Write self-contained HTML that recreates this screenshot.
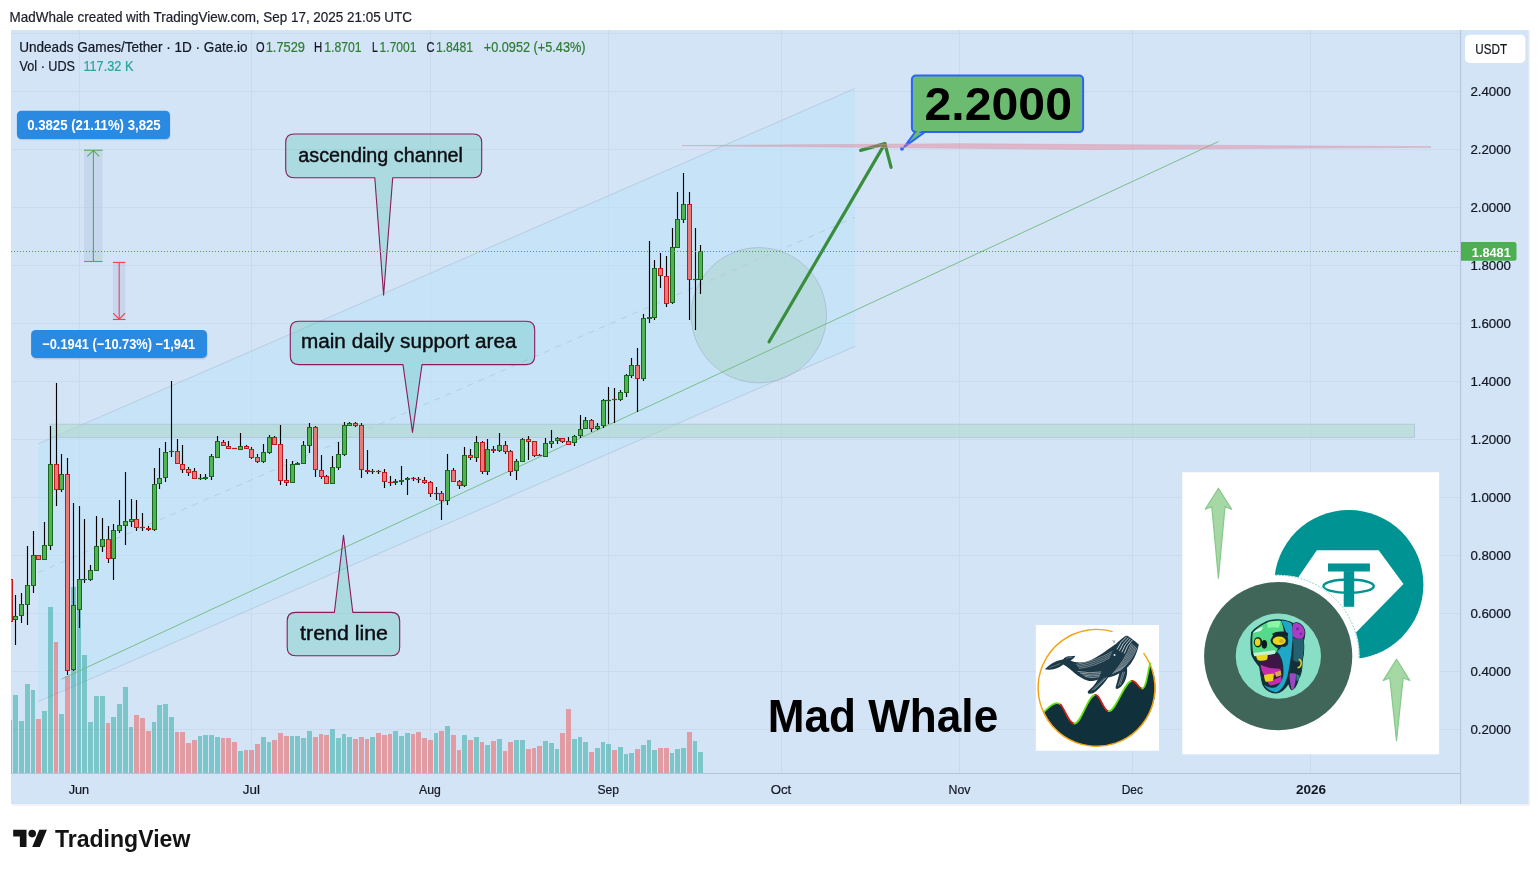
<!DOCTYPE html>
<html lang="en"><head><meta charset="utf-8"><title>UDS/USDT chart - MadWhale</title>
<style>html,body{margin:0;padding:0;background:#fff}body{width:1540px;height:873px;overflow:hidden;position:relative}svg{position:absolute;left:0;top:0;display:block}text{font-family:"Liberation Sans", "DejaVu Sans", sans-serif}</style>
</head><body>
<svg width="1540" height="873" viewBox="0 0 1540 873">
<rect x="12" y="31" width="1518.0" height="774.8" fill="#f1f1f0"/>
<rect x="11" y="30" width="1517.5" height="774" fill="#d3e4f7"/>
<defs><clipPath id="pane"><rect x="11" y="30" width="1449.5" height="743.5"/></clipPath></defs>
<g stroke="#c3d1e4" stroke-width="0.9" opacity="0.58">
<line x1="11" y1="33.5" x2="1460" y2="33.5"/>
<line x1="11" y1="91.5" x2="1460" y2="91.5"/>
<line x1="11" y1="149.5" x2="1460" y2="149.5"/>
<line x1="11" y1="207.5" x2="1460" y2="207.5"/>
<line x1="11" y1="265.5" x2="1460" y2="265.5"/>
<line x1="11" y1="323.5" x2="1460" y2="323.5"/>
<line x1="11" y1="381.5" x2="1460" y2="381.5"/>
<line x1="11" y1="439.5" x2="1460" y2="439.5"/>
<line x1="11" y1="497.5" x2="1460" y2="497.5"/>
<line x1="11" y1="555.5" x2="1460" y2="555.5"/>
<line x1="11" y1="613.5" x2="1460" y2="613.5"/>
<line x1="11" y1="671.5" x2="1460" y2="671.5"/>
<line x1="11" y1="729.5" x2="1460" y2="729.5"/>
<line x1="79.5" y1="30" x2="79.5" y2="773"/>
<line x1="251.5" y1="30" x2="251.5" y2="773"/>
<line x1="430.5" y1="30" x2="430.5" y2="773"/>
<line x1="608.5" y1="30" x2="608.5" y2="773"/>
<line x1="781.5" y1="30" x2="781.5" y2="773"/>
<line x1="959.5" y1="30" x2="959.5" y2="773"/>
<line x1="1132.5" y1="30" x2="1132.5" y2="773"/>
<line x1="1310.5" y1="30" x2="1310.5" y2="773"/>
</g>
<g clip-path="url(#pane)">
<polygon points="38.2,443.8 855,88.5 855,346.4 38.2,701.7" fill="#b9e2f8" fill-opacity="0.45"/>
<g stroke="#9fb0c4" stroke-width="1" opacity="0.45">
<line x1="38.2" y1="443.8" x2="855" y2="88.5"/>
<line x1="38.2" y1="701.7" x2="855" y2="346.4"/>
<line x1="38.2" y1="572.6" x2="855" y2="217.3" stroke-dasharray="6 6"/>
</g>
<rect x="50" y="424.2" width="1364.5" height="13.2" fill="#abd7c6" fill-opacity="0.5" stroke="#a8b8d6" stroke-opacity="0.7" stroke-width="0.8"/>
<circle cx="758.8" cy="315.2" r="67.6" fill="#a9d4c5" fill-opacity="0.5" stroke="#aab4cc" stroke-opacity="0.7" stroke-width="1"/>
<g>
<rect x="8" y="720" width="4" height="53" fill="#ef5350" fill-opacity="0.5"/>
<rect x="13" y="695" width="5" height="78" fill="#26a69a" fill-opacity="0.5"/>
<rect x="19" y="721" width="5" height="52" fill="#26a69a" fill-opacity="0.5"/>
<rect x="25" y="684" width="5" height="89" fill="#26a69a" fill-opacity="0.5"/>
<rect x="31" y="690" width="4" height="83" fill="#26a69a" fill-opacity="0.5"/>
<rect x="36" y="719" width="5" height="54" fill="#ef5350" fill-opacity="0.5"/>
<rect x="42" y="711" width="5" height="62" fill="#26a69a" fill-opacity="0.5"/>
<rect x="48" y="607" width="5" height="166" fill="#26a69a" fill-opacity="0.5"/>
<rect x="54" y="642" width="4" height="131" fill="#ef5350" fill-opacity="0.5"/>
<rect x="59" y="714" width="5" height="59" fill="#26a69a" fill-opacity="0.5"/>
<rect x="65" y="676" width="5" height="97" fill="#ef5350" fill-opacity="0.5"/>
<rect x="71" y="587" width="5" height="186" fill="#26a69a" fill-opacity="0.5"/>
<rect x="77" y="600" width="4" height="173" fill="#26a69a" fill-opacity="0.5"/>
<rect x="82" y="655" width="5" height="118" fill="#26a69a" fill-opacity="0.5"/>
<rect x="88" y="722" width="5" height="51" fill="#26a69a" fill-opacity="0.5"/>
<rect x="94" y="696" width="5" height="77" fill="#26a69a" fill-opacity="0.5"/>
<rect x="100" y="696" width="5" height="77" fill="#26a69a" fill-opacity="0.5"/>
<rect x="106" y="723" width="4" height="50" fill="#ef5350" fill-opacity="0.5"/>
<rect x="111" y="717" width="5" height="56" fill="#26a69a" fill-opacity="0.5"/>
<rect x="117" y="704" width="5" height="69" fill="#26a69a" fill-opacity="0.5"/>
<rect x="123" y="687" width="5" height="86" fill="#26a69a" fill-opacity="0.5"/>
<rect x="129" y="727" width="4" height="46" fill="#26a69a" fill-opacity="0.5"/>
<rect x="134" y="715" width="5" height="58" fill="#ef5350" fill-opacity="0.5"/>
<rect x="140" y="718" width="5" height="55" fill="#ef5350" fill-opacity="0.5"/>
<rect x="146" y="731" width="5" height="42" fill="#ef5350" fill-opacity="0.5"/>
<rect x="152" y="722" width="4" height="51" fill="#26a69a" fill-opacity="0.5"/>
<rect x="157" y="705" width="5" height="68" fill="#26a69a" fill-opacity="0.5"/>
<rect x="163" y="704" width="5" height="69" fill="#26a69a" fill-opacity="0.5"/>
<rect x="169" y="717" width="5" height="56" fill="#26a69a" fill-opacity="0.5"/>
<rect x="175" y="732" width="4" height="41" fill="#ef5350" fill-opacity="0.5"/>
<rect x="180" y="732" width="5" height="41" fill="#ef5350" fill-opacity="0.5"/>
<rect x="186" y="743" width="5" height="30" fill="#ef5350" fill-opacity="0.5"/>
<rect x="192" y="740" width="5" height="33" fill="#ef5350" fill-opacity="0.5"/>
<rect x="198" y="736" width="4" height="37" fill="#26a69a" fill-opacity="0.5"/>
<rect x="203" y="735" width="5" height="38" fill="#26a69a" fill-opacity="0.5"/>
<rect x="209" y="735" width="5" height="38" fill="#26a69a" fill-opacity="0.5"/>
<rect x="215" y="737" width="5" height="36" fill="#26a69a" fill-opacity="0.5"/>
<rect x="221" y="738" width="4" height="35" fill="#ef5350" fill-opacity="0.5"/>
<rect x="226" y="738" width="5" height="35" fill="#ef5350" fill-opacity="0.5"/>
<rect x="232" y="742" width="5" height="31" fill="#ef5350" fill-opacity="0.5"/>
<rect x="238" y="751" width="5" height="22" fill="#26a69a" fill-opacity="0.5"/>
<rect x="244" y="750" width="4" height="23" fill="#ef5350" fill-opacity="0.5"/>
<rect x="249" y="750" width="5" height="23" fill="#ef5350" fill-opacity="0.5"/>
<rect x="255" y="744" width="5" height="29" fill="#ef5350" fill-opacity="0.5"/>
<rect x="261" y="737" width="5" height="36" fill="#26a69a" fill-opacity="0.5"/>
<rect x="267" y="742" width="4" height="31" fill="#26a69a" fill-opacity="0.5"/>
<rect x="272" y="740" width="5" height="33" fill="#ef5350" fill-opacity="0.5"/>
<rect x="278" y="733" width="5" height="40" fill="#ef5350" fill-opacity="0.5"/>
<rect x="284" y="736" width="5" height="37" fill="#ef5350" fill-opacity="0.5"/>
<rect x="290" y="736" width="4" height="37" fill="#26a69a" fill-opacity="0.5"/>
<rect x="295" y="736" width="5" height="37" fill="#26a69a" fill-opacity="0.5"/>
<rect x="301" y="738" width="5" height="35" fill="#26a69a" fill-opacity="0.5"/>
<rect x="307" y="731" width="5" height="42" fill="#26a69a" fill-opacity="0.5"/>
<rect x="313" y="737" width="5" height="36" fill="#ef5350" fill-opacity="0.5"/>
<rect x="319" y="734" width="4" height="39" fill="#ef5350" fill-opacity="0.5"/>
<rect x="324" y="735" width="5" height="38" fill="#ef5350" fill-opacity="0.5"/>
<rect x="330" y="729" width="5" height="44" fill="#26a69a" fill-opacity="0.5"/>
<rect x="336" y="738" width="5" height="35" fill="#26a69a" fill-opacity="0.5"/>
<rect x="342" y="734" width="4" height="39" fill="#26a69a" fill-opacity="0.5"/>
<rect x="347" y="737" width="5" height="36" fill="#26a69a" fill-opacity="0.5"/>
<rect x="353" y="739" width="5" height="34" fill="#ef5350" fill-opacity="0.5"/>
<rect x="359" y="737" width="5" height="36" fill="#ef5350" fill-opacity="0.5"/>
<rect x="365" y="739" width="4" height="34" fill="#ef5350" fill-opacity="0.5"/>
<rect x="370" y="737" width="5" height="36" fill="#26a69a" fill-opacity="0.5"/>
<rect x="376" y="733" width="5" height="40" fill="#ef5350" fill-opacity="0.5"/>
<rect x="382" y="735" width="5" height="38" fill="#ef5350" fill-opacity="0.5"/>
<rect x="388" y="734" width="4" height="39" fill="#ef5350" fill-opacity="0.5"/>
<rect x="393" y="731" width="5" height="42" fill="#26a69a" fill-opacity="0.5"/>
<rect x="399" y="736" width="5" height="37" fill="#26a69a" fill-opacity="0.5"/>
<rect x="405" y="733" width="5" height="40" fill="#26a69a" fill-opacity="0.5"/>
<rect x="411" y="734" width="4" height="39" fill="#ef5350" fill-opacity="0.5"/>
<rect x="416" y="732" width="5" height="41" fill="#ef5350" fill-opacity="0.5"/>
<rect x="422" y="738" width="5" height="35" fill="#ef5350" fill-opacity="0.5"/>
<rect x="428" y="740" width="5" height="33" fill="#ef5350" fill-opacity="0.5"/>
<rect x="434" y="733" width="4" height="40" fill="#26a69a" fill-opacity="0.5"/>
<rect x="439" y="731" width="5" height="42" fill="#ef5350" fill-opacity="0.5"/>
<rect x="445" y="726" width="5" height="47" fill="#26a69a" fill-opacity="0.5"/>
<rect x="451" y="735" width="5" height="38" fill="#ef5350" fill-opacity="0.5"/>
<rect x="457" y="750" width="4" height="23" fill="#ef5350" fill-opacity="0.5"/>
<rect x="462" y="735" width="5" height="38" fill="#26a69a" fill-opacity="0.5"/>
<rect x="468" y="740" width="5" height="33" fill="#ef5350" fill-opacity="0.5"/>
<rect x="474" y="737" width="5" height="36" fill="#26a69a" fill-opacity="0.5"/>
<rect x="480" y="742" width="4" height="31" fill="#ef5350" fill-opacity="0.5"/>
<rect x="485" y="745" width="5" height="28" fill="#26a69a" fill-opacity="0.5"/>
<rect x="491" y="741" width="5" height="32" fill="#ef5350" fill-opacity="0.5"/>
<rect x="497" y="739" width="5" height="34" fill="#26a69a" fill-opacity="0.5"/>
<rect x="503" y="751" width="4" height="22" fill="#ef5350" fill-opacity="0.5"/>
<rect x="508" y="742" width="5" height="31" fill="#ef5350" fill-opacity="0.5"/>
<rect x="514" y="740" width="5" height="33" fill="#26a69a" fill-opacity="0.5"/>
<rect x="520" y="740" width="5" height="33" fill="#26a69a" fill-opacity="0.5"/>
<rect x="526" y="749" width="5" height="24" fill="#ef5350" fill-opacity="0.5"/>
<rect x="532" y="748" width="4" height="25" fill="#ef5350" fill-opacity="0.5"/>
<rect x="537" y="746" width="5" height="27" fill="#ef5350" fill-opacity="0.5"/>
<rect x="543" y="741" width="5" height="32" fill="#26a69a" fill-opacity="0.5"/>
<rect x="549" y="743" width="5" height="30" fill="#26a69a" fill-opacity="0.5"/>
<rect x="555" y="749" width="4" height="24" fill="#26a69a" fill-opacity="0.5"/>
<rect x="560" y="733" width="5" height="40" fill="#ef5350" fill-opacity="0.5"/>
<rect x="566" y="709" width="5" height="64" fill="#ef5350" fill-opacity="0.5"/>
<rect x="572" y="739" width="5" height="34" fill="#26a69a" fill-opacity="0.5"/>
<rect x="578" y="737" width="4" height="36" fill="#26a69a" fill-opacity="0.5"/>
<rect x="583" y="742" width="5" height="31" fill="#26a69a" fill-opacity="0.5"/>
<rect x="589" y="752" width="5" height="21" fill="#ef5350" fill-opacity="0.5"/>
<rect x="595" y="748" width="5" height="25" fill="#26a69a" fill-opacity="0.5"/>
<rect x="601" y="742" width="4" height="31" fill="#26a69a" fill-opacity="0.5"/>
<rect x="606" y="744" width="5" height="29" fill="#26a69a" fill-opacity="0.5"/>
<rect x="612" y="750" width="5" height="23" fill="#ef5350" fill-opacity="0.5"/>
<rect x="618" y="747" width="5" height="26" fill="#26a69a" fill-opacity="0.5"/>
<rect x="624" y="754" width="4" height="19" fill="#26a69a" fill-opacity="0.5"/>
<rect x="629" y="753" width="5" height="20" fill="#26a69a" fill-opacity="0.5"/>
<rect x="635" y="749" width="5" height="24" fill="#ef5350" fill-opacity="0.5"/>
<rect x="641" y="745" width="5" height="28" fill="#26a69a" fill-opacity="0.5"/>
<rect x="647" y="740" width="4" height="33" fill="#26a69a" fill-opacity="0.5"/>
<rect x="652" y="750" width="5" height="23" fill="#26a69a" fill-opacity="0.5"/>
<rect x="658" y="748" width="5" height="25" fill="#ef5350" fill-opacity="0.5"/>
<rect x="664" y="748" width="5" height="25" fill="#ef5350" fill-opacity="0.5"/>
<rect x="670" y="753" width="4" height="20" fill="#26a69a" fill-opacity="0.5"/>
<rect x="675" y="749" width="5" height="24" fill="#26a69a" fill-opacity="0.5"/>
<rect x="681" y="748" width="5" height="25" fill="#26a69a" fill-opacity="0.5"/>
<rect x="687" y="732" width="5" height="41" fill="#ef5350" fill-opacity="0.5"/>
<rect x="693" y="741" width="4" height="32" fill="#26a69a" fill-opacity="0.5"/>
<rect x="698" y="752" width="5" height="21" fill="#26a69a" fill-opacity="0.5"/>
</g>
<line x1="61.6" y1="679.1" x2="1218.5" y2="141.5" stroke="#74b97f" stroke-width="1" opacity="0.9"/>
<g stroke-width="1.15" stroke="#000">
<line x1="10.5" y1="579" x2="10.5" y2="622"/>
<line x1="15.5" y1="595" x2="15.5" y2="645"/>
<line x1="21.5" y1="593" x2="21.5" y2="623"/>
<line x1="27.5" y1="546" x2="27.5" y2="625"/>
<line x1="33.5" y1="531" x2="33.5" y2="593"/>
<line x1="38.5" y1="555" x2="38.5" y2="560"/>
<line x1="44.5" y1="522" x2="44.5" y2="560"/>
<line x1="50.5" y1="426" x2="50.5" y2="550"/>
<line x1="56.5" y1="383" x2="56.5" y2="506"/>
<line x1="61.5" y1="454" x2="61.5" y2="492"/>
<line x1="67.5" y1="458" x2="67.5" y2="675"/>
<line x1="73.5" y1="503" x2="73.5" y2="671"/>
<line x1="79.5" y1="506" x2="79.5" y2="628"/>
<line x1="84.5" y1="519" x2="84.5" y2="583"/>
<line x1="90.5" y1="565" x2="90.5" y2="581"/>
<line x1="96.5" y1="516" x2="96.5" y2="571"/>
<line x1="102.5" y1="518" x2="102.5" y2="552"/>
<line x1="108.5" y1="526" x2="108.5" y2="563"/>
<line x1="113.5" y1="524" x2="113.5" y2="580"/>
<line x1="119.5" y1="500" x2="119.5" y2="533"/>
<line x1="125.5" y1="472" x2="125.5" y2="545"/>
<line x1="131.5" y1="499" x2="131.5" y2="527"/>
<line x1="136.5" y1="500" x2="136.5" y2="531"/>
<line x1="142.5" y1="513" x2="142.5" y2="531"/>
<line x1="148.5" y1="526" x2="148.5" y2="531"/>
<line x1="154.5" y1="468" x2="154.5" y2="531"/>
<line x1="159.5" y1="448" x2="159.5" y2="489"/>
<line x1="165.5" y1="442" x2="165.5" y2="482"/>
<line x1="171.5" y1="381" x2="171.5" y2="457"/>
<line x1="177.5" y1="439" x2="177.5" y2="464"/>
<line x1="182.5" y1="445" x2="182.5" y2="473"/>
<line x1="188.5" y1="467" x2="188.5" y2="476"/>
<line x1="194.5" y1="468" x2="194.5" y2="479"/>
<line x1="200.5" y1="474" x2="200.5" y2="480"/>
<line x1="205.5" y1="474" x2="205.5" y2="480"/>
<line x1="211.5" y1="454" x2="211.5" y2="480"/>
<line x1="217.5" y1="436" x2="217.5" y2="458"/>
<line x1="223.5" y1="440" x2="223.5" y2="446"/>
<line x1="228.5" y1="441" x2="228.5" y2="449"/>
<line x1="234.5" y1="448" x2="234.5" y2="449"/>
<line x1="240.5" y1="433" x2="240.5" y2="450"/>
<line x1="246.5" y1="445" x2="246.5" y2="449"/>
<line x1="251.5" y1="447" x2="251.5" y2="459"/>
<line x1="257.5" y1="454" x2="257.5" y2="463"/>
<line x1="263.5" y1="444" x2="263.5" y2="463"/>
<line x1="269.5" y1="435" x2="269.5" y2="454"/>
<line x1="274.5" y1="436" x2="274.5" y2="445"/>
<line x1="280.5" y1="425" x2="280.5" y2="485"/>
<line x1="286.5" y1="459" x2="286.5" y2="486"/>
<line x1="292.5" y1="461" x2="292.5" y2="483"/>
<line x1="297.5" y1="462" x2="297.5" y2="465"/>
<line x1="303.5" y1="441" x2="303.5" y2="464"/>
<line x1="309.5" y1="423" x2="309.5" y2="453"/>
<line x1="315.5" y1="426" x2="315.5" y2="477"/>
<line x1="321.5" y1="455" x2="321.5" y2="479"/>
<line x1="326.5" y1="475" x2="326.5" y2="484"/>
<line x1="332.5" y1="456" x2="332.5" y2="484"/>
<line x1="338.5" y1="442" x2="338.5" y2="470"/>
<line x1="344.5" y1="422" x2="344.5" y2="456"/>
<line x1="349.5" y1="422" x2="349.5" y2="426"/>
<line x1="355.5" y1="422" x2="355.5" y2="427"/>
<line x1="361.5" y1="423" x2="361.5" y2="478"/>
<line x1="367.5" y1="450" x2="367.5" y2="474"/>
<line x1="372.5" y1="469" x2="372.5" y2="474"/>
<line x1="378.5" y1="470" x2="378.5" y2="474"/>
<line x1="384.5" y1="469" x2="384.5" y2="488"/>
<line x1="390.5" y1="476" x2="390.5" y2="486"/>
<line x1="395.5" y1="479" x2="395.5" y2="485"/>
<line x1="401.5" y1="466" x2="401.5" y2="485"/>
<line x1="407.5" y1="477" x2="407.5" y2="495"/>
<line x1="413.5" y1="477" x2="413.5" y2="481"/>
<line x1="418.5" y1="477" x2="418.5" y2="483"/>
<line x1="424.5" y1="477" x2="424.5" y2="484"/>
<line x1="430.5" y1="481" x2="430.5" y2="497"/>
<line x1="436.5" y1="487" x2="436.5" y2="500"/>
<line x1="441.5" y1="491" x2="441.5" y2="520"/>
<line x1="447.5" y1="454" x2="447.5" y2="505"/>
<line x1="453.5" y1="468" x2="453.5" y2="482"/>
<line x1="459.5" y1="480" x2="459.5" y2="489"/>
<line x1="464.5" y1="447" x2="464.5" y2="487"/>
<line x1="470.5" y1="449" x2="470.5" y2="460"/>
<line x1="476.5" y1="436" x2="476.5" y2="462"/>
<line x1="482.5" y1="441" x2="482.5" y2="474"/>
<line x1="487.5" y1="439" x2="487.5" y2="475"/>
<line x1="493.5" y1="446" x2="493.5" y2="453"/>
<line x1="499.5" y1="433" x2="499.5" y2="452"/>
<line x1="505.5" y1="441" x2="505.5" y2="454"/>
<line x1="510.5" y1="450" x2="510.5" y2="476"/>
<line x1="516.5" y1="459" x2="516.5" y2="480"/>
<line x1="522.5" y1="438" x2="522.5" y2="462"/>
<line x1="528.5" y1="436" x2="528.5" y2="460"/>
<line x1="534.5" y1="441" x2="534.5" y2="457"/>
<line x1="539.5" y1="454" x2="539.5" y2="456"/>
<line x1="545.5" y1="438" x2="545.5" y2="457"/>
<line x1="551.5" y1="430" x2="551.5" y2="448"/>
<line x1="557.5" y1="437" x2="557.5" y2="444"/>
<line x1="562.5" y1="438" x2="562.5" y2="443"/>
<line x1="568.5" y1="437" x2="568.5" y2="445"/>
<line x1="574.5" y1="435" x2="574.5" y2="446"/>
<line x1="580.5" y1="415" x2="580.5" y2="438"/>
<line x1="585.5" y1="417" x2="585.5" y2="429"/>
<line x1="591.5" y1="419" x2="591.5" y2="432"/>
<line x1="597.5" y1="423" x2="597.5" y2="430"/>
<line x1="603.5" y1="399" x2="603.5" y2="428"/>
<line x1="608.5" y1="387" x2="608.5" y2="424"/>
<line x1="614.5" y1="388" x2="614.5" y2="423"/>
<line x1="620.5" y1="390" x2="620.5" y2="401"/>
<line x1="626.5" y1="374" x2="626.5" y2="397"/>
<line x1="631.5" y1="358" x2="631.5" y2="378"/>
<line x1="637.5" y1="348" x2="637.5" y2="412"/>
<line x1="643.5" y1="314" x2="643.5" y2="381"/>
<line x1="649.5" y1="241" x2="649.5" y2="323"/>
<line x1="654.5" y1="260" x2="654.5" y2="320"/>
<line x1="660.5" y1="253" x2="660.5" y2="288"/>
<line x1="666.5" y1="256" x2="666.5" y2="307"/>
<line x1="672.5" y1="228" x2="672.5" y2="304"/>
<line x1="677.5" y1="192" x2="677.5" y2="248"/>
<line x1="683.5" y1="173" x2="683.5" y2="223"/>
<line x1="689.5" y1="192" x2="689.5" y2="320"/>
<line x1="695.5" y1="228" x2="695.5" y2="330"/>
<line x1="700.5" y1="245" x2="700.5" y2="294"/>
</g>
<g fill="#50b455" stroke="#1a661f" stroke-width="1">
<rect x="13.5" y="616.5" width="4" height="3"/>
<rect x="19.5" y="604.5" width="4" height="11"/>
<rect x="25.5" y="585.5" width="4" height="19"/>
<rect x="31.5" y="555.5" width="4" height="30"/>
<rect x="42.5" y="545.5" width="4" height="14"/>
<rect x="48.5" y="464.5" width="4" height="81"/>
<rect x="59.5" y="474.5" width="4" height="15"/>
<rect x="71.5" y="605.5" width="4" height="64"/>
<rect x="77.5" y="579.5" width="4" height="30"/>
<line x1="82" y1="579.5" x2="87" y2="579.5" stroke-width="1.2"/>
<rect x="88.5" y="570.5" width="4" height="9"/>
<rect x="94.5" y="546.5" width="4" height="24"/>
<rect x="100.5" y="539.5" width="4" height="7"/>
<rect x="111.5" y="530.5" width="4" height="28"/>
<rect x="117.5" y="525.5" width="4" height="5"/>
<rect x="123.5" y="521.5" width="4" height="4"/>
<rect x="129.5" y="519.5" width="4" height="2"/>
<rect x="152.5" y="484.5" width="4" height="45"/>
<rect x="157.5" y="478.5" width="4" height="5"/>
<rect x="163.5" y="452.5" width="4" height="25"/>
<line x1="169" y1="451.5" x2="174" y2="451.5" stroke-width="1.2"/>
<line x1="198" y1="478.5" x2="203" y2="478.5" stroke-width="1.2"/>
<rect x="203.5" y="477.5" width="4" height="1"/>
<rect x="209.5" y="456.5" width="4" height="20"/>
<rect x="215.5" y="441.5" width="4" height="16"/>
<rect x="238.5" y="446.5" width="4" height="3"/>
<rect x="261.5" y="452.5" width="4" height="9"/>
<rect x="267.5" y="437.5" width="4" height="15"/>
<rect x="290.5" y="464.5" width="4" height="18"/>
<rect x="295.5" y="463.5" width="4" height="1"/>
<rect x="301.5" y="445.5" width="4" height="18"/>
<rect x="307.5" y="427.5" width="4" height="18"/>
<rect x="330.5" y="467.5" width="4" height="16"/>
<rect x="336.5" y="454.5" width="4" height="13"/>
<rect x="342.5" y="425.5" width="4" height="29"/>
<rect x="347.5" y="423.5" width="4" height="2"/>
<line x1="370" y1="471.5" x2="375" y2="471.5" stroke-width="1.2"/>
<rect x="393.5" y="481.5" width="4" height="1"/>
<rect x="399.5" y="480.5" width="4" height="1"/>
<rect x="405.5" y="478.5" width="4" height="1"/>
<line x1="434" y1="493.5" x2="439" y2="493.5" stroke-width="1.2"/>
<rect x="445.5" y="470.5" width="4" height="30"/>
<rect x="462.5" y="455.5" width="4" height="30"/>
<rect x="474.5" y="442.5" width="4" height="15"/>
<rect x="485.5" y="449.5" width="4" height="22"/>
<rect x="497.5" y="445.5" width="4" height="5"/>
<rect x="514.5" y="461.5" width="4" height="9"/>
<rect x="520.5" y="439.5" width="4" height="22"/>
<rect x="543.5" y="443.5" width="4" height="13"/>
<rect x="549.5" y="441.5" width="4" height="2"/>
<rect x="555.5" y="438.5" width="4" height="2"/>
<rect x="572.5" y="436.5" width="4" height="6"/>
<rect x="578.5" y="429.5" width="4" height="6"/>
<rect x="583.5" y="420.5" width="4" height="8"/>
<rect x="595.5" y="426.5" width="4" height="2"/>
<rect x="601.5" y="400.5" width="4" height="25"/>
<line x1="606" y1="400.5" x2="611" y2="400.5" stroke-width="1.2"/>
<rect x="618.5" y="392.5" width="4" height="7"/>
<rect x="624.5" y="375.5" width="4" height="17"/>
<rect x="629.5" y="365.5" width="4" height="10"/>
<rect x="641.5" y="318.5" width="4" height="60"/>
<rect x="647.5" y="317.5" width="4" height="1"/>
<rect x="652.5" y="268.5" width="4" height="49"/>
<rect x="670.5" y="247.5" width="4" height="55"/>
<rect x="675.5" y="219.5" width="4" height="28"/>
<rect x="681.5" y="204.5" width="4" height="15"/>
<line x1="693" y1="279.5" x2="698" y2="279.5" stroke-width="1.2"/>
<rect x="698.5" y="251.5" width="4" height="28"/>
</g>
<g fill="#e97a7a" stroke="#c3191e" stroke-width="1">
<rect x="8.5" y="579.5" width="4" height="42"/>
<rect x="36.5" y="555.5" width="4" height="4"/>
<rect x="54.5" y="464.5" width="4" height="25"/>
<rect x="65.5" y="474.5" width="4" height="196"/>
<rect x="106.5" y="539.5" width="4" height="19"/>
<rect x="134.5" y="519.5" width="4" height="8"/>
<line x1="140" y1="527.5" x2="145" y2="527.5" stroke-width="1.2"/>
<rect x="146.5" y="528.5" width="4" height="1"/>
<rect x="175.5" y="451.5" width="4" height="12"/>
<rect x="180.5" y="464.5" width="4" height="5"/>
<rect x="186.5" y="469.5" width="4" height="3"/>
<rect x="192.5" y="471.5" width="4" height="7"/>
<rect x="221.5" y="442.5" width="4" height="3"/>
<rect x="226.5" y="446.5" width="4" height="2"/>
<line x1="232" y1="448.5" x2="237" y2="448.5" stroke-width="1.2"/>
<rect x="244.5" y="446.5" width="4" height="2"/>
<rect x="249.5" y="449.5" width="4" height="8"/>
<rect x="255.5" y="457.5" width="4" height="4"/>
<rect x="272.5" y="437.5" width="4" height="7"/>
<rect x="278.5" y="444.5" width="4" height="36"/>
<rect x="284.5" y="480.5" width="4" height="2"/>
<rect x="313.5" y="427.5" width="4" height="42"/>
<rect x="319.5" y="470.5" width="4" height="6"/>
<rect x="324.5" y="476.5" width="4" height="7"/>
<rect x="353.5" y="423.5" width="4" height="2"/>
<rect x="359.5" y="425.5" width="4" height="44"/>
<rect x="365.5" y="470.5" width="4" height="1"/>
<line x1="376" y1="471.5" x2="381" y2="471.5" stroke-width="1.2"/>
<rect x="382.5" y="472.5" width="4" height="9"/>
<line x1="388" y1="482.5" x2="393" y2="482.5" stroke-width="1.2"/>
<line x1="411" y1="478.5" x2="416" y2="478.5" stroke-width="1.2"/>
<line x1="416" y1="479.5" x2="421" y2="479.5" stroke-width="1.2"/>
<rect x="422.5" y="480.5" width="4" height="2"/>
<rect x="428.5" y="482.5" width="4" height="11"/>
<rect x="439.5" y="493.5" width="4" height="7"/>
<rect x="451.5" y="470.5" width="4" height="11"/>
<rect x="457.5" y="481.5" width="4" height="4"/>
<rect x="468.5" y="455.5" width="4" height="2"/>
<rect x="480.5" y="442.5" width="4" height="29"/>
<rect x="491.5" y="449.5" width="4" height="1"/>
<rect x="503.5" y="445.5" width="4" height="6"/>
<rect x="508.5" y="451.5" width="4" height="20"/>
<rect x="526.5" y="439.5" width="4" height="2"/>
<rect x="532.5" y="441.5" width="4" height="14"/>
<line x1="537" y1="455.5" x2="542" y2="455.5" stroke-width="1.2"/>
<rect x="560.5" y="438.5" width="4" height="3"/>
<rect x="566.5" y="441.5" width="4" height="3"/>
<rect x="589.5" y="420.5" width="4" height="8"/>
<line x1="612" y1="399.5" x2="617" y2="399.5" stroke-width="1.2"/>
<rect x="635.5" y="365.5" width="4" height="13"/>
<rect x="658.5" y="268.5" width="4" height="7"/>
<rect x="664.5" y="276.5" width="4" height="27"/>
<rect x="687.5" y="204.5" width="4" height="75"/>
</g>
</g>
<g id="drawings">
<g stroke="#388e3c" stroke-width="3.2" fill="none" stroke-linecap="round" stroke-linejoin="round">
<line x1="769.1" y1="341.8" x2="884.9" y2="143.6"/>
<polyline points="860.6,150.4 884.9,143.6 891.1,167.3"/>
</g>
<path d="M294.2,134 H473.2 Q481.7,134 481.7,142.5 V169.2 Q481.7,177.7 473.2,177.7 H392.7 L383.6,295.2 L374.8,177.7 H294.2 Q285.7,177.7 285.7,169.2 V142.5 Q285.7,134 294.2,134 Z" fill="#4ec3b1" fill-opacity="0.3" stroke="#8a1c5c" stroke-width="1.1" stroke-linejoin="round"/>
<path d="M298.8,321.2 H526.2 Q534.7,321.2 534.7,329.7 V356.1 Q534.7,364.6 526.2,364.6 H422 L412.5,432.4 L403,364.6 H298.8 Q290.3,364.6 290.3,356.1 V329.7 Q290.3,321.2 298.8,321.2 Z" fill="#4ec3b1" fill-opacity="0.3" stroke="#8a1c5c" stroke-width="1.1" stroke-linejoin="round"/>
<path d="M295.7,612.4 H334.4 L343.5,535.3 L352.8,612.4 H391.2 Q399.7,612.4 399.7,620.9 V647.2 Q399.7,655.7 391.2,655.7 H295.7 Q287.2,655.7 287.2,647.2 V620.9 Q287.2,612.4 295.7,612.4 Z" fill="#4ec3b1" fill-opacity="0.3" stroke="#8a1c5c" stroke-width="1.1" stroke-linejoin="round"/>
<rect x="84" y="150" width="18.6" height="111.5" fill="#b4c6e0" fill-opacity="0.42"/>
<g stroke="#4caf50" stroke-width="1.1" fill="none"><line x1="84" y1="150.2" x2="102.6" y2="150.2"/><line x1="84" y1="261.5" x2="102.6" y2="261.5"/><line x1="93.4" y1="150.2" x2="93.4" y2="261.5"/><polyline points="87.3,156.3 93.4,150.4 99.2,156.3"/></g>
<rect x="112.9" y="262.2" width="12.5" height="57.3" fill="#b4c6e0" fill-opacity="0.42"/>
<g stroke="#f23f56" stroke-width="1.1" fill="none"><line x1="112.9" y1="262.4" x2="125.4" y2="262.4"/><line x1="112.9" y1="319.5" x2="125.4" y2="319.5"/><line x1="119.2" y1="262.4" x2="119.2" y2="319.5"/><polyline points="113.2,313.1 119.2,319.2 125.1,313.1"/></g>
<rect x="17.4" y="112.2" width="153" height="28" rx="4.5" fill="#7f9cc4" fill-opacity="0.35"/>
<rect x="16.9" y="110.8" width="153.1" height="28.2" rx="4.5" fill="#2a8ae1"/>
<rect x="31.6" y="331.4" width="176" height="28" rx="4.5" fill="#7f9cc4" fill-opacity="0.35"/>
<rect x="31.1" y="330" width="175.9" height="27.9" rx="4.5" fill="#2a8ae1"/>
<path d="M915.6,131.5 L904.2,147 L925.6,131.5 Z" fill="#6bbc70" stroke="#2962ff" stroke-width="2.1" stroke-linejoin="round"/>
<rect x="911.9" y="75.6" width="171.2" height="56.5" rx="4" fill="#6bbc70" stroke="#2962ff" stroke-width="2"/>
<path d="M917.5,130.8 L913,136.5 L922,130.8 Z" fill="#6bbc70"/>
<circle cx="902" cy="148.8" r="1.9" fill="#2962ff"/>
<polygon points="682,145.6 960,143.7 1431,146.7 1431,147.3 1090,149.5" fill="#f07088" fill-opacity="0.4" stroke="#d2a2ba" stroke-width="0.6" stroke-opacity="0.8" stroke-linejoin="bevel"/>
</g>
<line x1="11" y1="251.5" x2="1460" y2="251.5" stroke="#43a047" stroke-width="1" stroke-dasharray="1 2"/>
<line x1="1460.6" y1="30" x2="1460.6" y2="804" stroke="#b3c2d8" stroke-width="1"/>
<line x1="11" y1="773.5" x2="1460.5" y2="773.5" stroke="#b4c3d8" stroke-width="1"/>
<g id="logos">
<g transform="translate(1025,615) scale(0.17182)">
<rect x="63" y="58" width="717" height="732" fill="#fff"/>
<defs><clipPath id="mwc"><circle cx="420" cy="425" r="339"/></clipPath></defs>
<path d="M112,562 C140,535 160,513 185,513 C195,513 200,515 208,522 C235,555 255,632 287,632 C330,632 365,465 410,465 C440,465 455,560 487,560 C530,560 580,383 622,383 C650,383 660,428 683,428 C705,428 715,330 728,282 L800,282 L800,800 L60,800 L60,562 Z" fill="#10303c" clip-path="url(#mwc)"/>
<path d="M690,222 A340,340 0 1 1 510,97" fill="none" stroke="#f3a312" stroke-width="8.5"/>
<g fill="none" stroke-width="10" stroke-linecap="round">
<path d="M112,562 C140,535 160,513 185,513 C195,513 200,515 208,522" stroke="#66e010"/>
<path d="M208,522 C235,555 255,632 287,632" stroke="#cc2014"/>
<path d="M287,632 C330,632 365,465 410,465" stroke="#66e010"/>
<path d="M410,465 C440,465 455,560 487,560" stroke="#cc2014"/>
<path d="M487,560 C530,560 580,383 622,383" stroke="#66e010"/>
<path d="M622,383 C650,383 660,428 683,428" stroke="#cc2014"/>
<path d="M683,428 C705,428 715,330 728,282" stroke="#66e010"/>
</g>
</g>
<g transform="translate(1040,630) scale(0.080154)">
<path d="M60,490 C100,450 150,410 190,395 C230,380 265,372 290,365 C305,345 330,330 360,328 C390,326 420,322 440,320 C435,340 420,355 380,380 C420,400 480,412 560,400 C620,388 680,355 740,315 C800,275 860,235 950,170 C990,135 1030,100 1060,78 C1080,68 1100,72 1110,85 L1150,112 C1180,135 1210,160 1232,180 C1225,230 1205,290 1175,350 C1150,400 1120,440 1085,470 C1095,540 1075,620 1040,670 C1015,705 990,725 962,737 C945,735 940,722 945,705 C960,660 975,600 990,540 C960,560 900,585 850,592 C820,640 770,700 700,765 C670,790 635,800 610,795 C595,790 592,772 600,762 C640,730 690,680 722,618 C690,635 640,642 600,632 C540,615 480,575 430,535 C380,495 340,455 290,430 C260,455 220,475 180,488 C140,497 100,497 60,490 Z" fill="#1c3947"/>
<g fill="none" stroke="#f4f7f8" stroke-linecap="round">
<path d="M962,238 Q1000.0,148.0 1078,86" stroke-width="10" opacity="0.95"/>
<path d="M992,255 Q1027.0,163.0 1102,99" stroke-width="10" opacity="0.95"/>
<path d="M1022,272 Q1054.0,178.0 1126,112" stroke-width="10" opacity="0.95"/>
<path d="M1052,289 Q1081.0,193.0 1150,125" stroke-width="10" opacity="0.95"/>
<path d="M905,548 Q1066.5,371.0 1138,170" stroke-width="7" opacity="0.8"/>
<path d="M925,539 Q1083.5,372.0 1152,181" stroke-width="7" opacity="0.8"/>
<path d="M945,530 Q1100.5,373.0 1166,192" stroke-width="7" opacity="0.8"/>
<path d="M965,521 Q1117.5,374.0 1180,203" stroke-width="7" opacity="0.8"/>
<path d="M985,512 Q1134.5,375.0 1194,214" stroke-width="7" opacity="0.8"/>
<path d="M1005,503 Q1151.5,376.0 1208,225" stroke-width="7" opacity="0.8"/>
<path d="M455,428 Q697.5,388.0 900,268" stroke-width="7" opacity="0.7"/>
<path d="M467,445 Q698.5,409.5 890,294" stroke-width="7" opacity="0.7"/>
<path d="M479,462 Q699.5,431.0 880,320" stroke-width="7" opacity="0.7"/>
<path d="M491,479 Q700.5,452.5 870,346" stroke-width="7" opacity="0.7"/>
<path d="M475,518 Q617.5,545.0 760,524" stroke-width="8" opacity="0.8"/>
<path d="M505,539 Q628.5,565.5 752,544" stroke-width="8" opacity="0.8"/>
<path d="M535,560 Q639.5,586.0 744,564" stroke-width="8" opacity="0.8"/>
<path d="M565,581 Q650.5,606.5 736,584" stroke-width="8" opacity="0.8"/>
<path d="M650,750 L805,600" stroke-width="7" opacity="0.8"/>
<path d="M978,695 L1035,525" stroke-width="7" opacity="0.7"/>
<path d="M680,740 L827,596" stroke-width="7" opacity="0.8"/>
<path d="M1002,681 L1053,529" stroke-width="7" opacity="0.7"/>
<path d="M120,470 L250,420 M330,352 L400,338" stroke-width="6" opacity="0.6"/>
</g>
<circle cx="930" cy="312" r="13" fill="#dfe7ea"/>
<path d="M925,165 L908,125 M925,160 L935,128" stroke="#3a5560" stroke-width="6" fill="none"/>
</g>
<g transform="translate(1170,460) scale(0.34953)">
<rect x="35" y="35" width="735" height="807" fill="#fff"/>
<circle cx="511.5" cy="356.5" r="213.5" fill="#009393"/>
<polygon points="420,258 597,258 668,355 511,515 354,355" fill="#fff"/>
<g fill="#009393"><rect x="452" y="296" width="120" height="23"/><rect x="497" y="318" width="30" height="102"/></g>
<ellipse cx="511" cy="361" rx="72" ry="19" fill="none" stroke="#009393" stroke-width="7"/>
<circle cx="309.5" cy="561" r="233" fill="#fff"/>
<defs><clipPath id="tcl"><circle cx="511.5" cy="356.5" r="213.5"/></clipPath></defs><circle cx="309.5" cy="561" r="231" fill="none" stroke="#2aa3a0" stroke-width="1.8" stroke-dasharray="5 4" opacity="0.9" clip-path="url(#tcl)"/>
<circle cx="309.5" cy="561" r="212" fill="#3f6658"/>
<circle cx="310" cy="561" r="122" fill="#88dfc6"/>
</g>
<g transform="translate(1225,600) scale(0.12601)">
<path d="M212,258 C225,235 280,195 330,172 C380,150 460,152 510,172 C525,178 535,185 545,186 C575,170 620,195 632,240 C640,280 625,300 622,330 C630,380 622,440 612,490 C612,540 600,600 585,620 C575,660 560,705 528,712 C515,700 510,680 505,660 C480,700 440,735 405,738 C360,735 320,710 300,670 C285,620 282,570 275,530 C250,500 222,465 212,432 C205,380 205,300 212,258 Z" fill="#123038" stroke="#123038" stroke-width="8" stroke-linejoin="round"/>
<path d="M220,262 C235,238 285,200 332,180 C370,165 410,162 445,166 C460,200 470,240 465,270 C440,265 400,270 375,290 C365,330 380,370 420,385 C415,405 405,418 395,425 C340,440 270,445 225,428 C215,380 214,310 220,262 Z" fill="#55d98a"/>
<path d="M335,180 C370,166 410,163 440,167 C438,190 432,210 425,222 C395,215 360,215 340,225 Z" fill="#8af7a5"/>
<path d="M222,262 C235,242 265,225 300,212 C298,228 290,240 280,246 C258,250 238,256 222,262 Z" fill="#dff8e6"/>
<path d="M447,166 C470,160 500,166 528,186 C540,230 540,300 532,360 C528,420 520,480 505,560 C495,620 480,660 460,690 C440,715 420,728 405,732 C370,728 335,708 308,672 C330,690 370,700 400,695 C430,680 455,640 462,600 C468,560 462,500 450,470 C440,440 425,420 412,412 C425,400 440,385 450,370 C470,380 490,370 500,350 C505,320 500,290 490,270 C480,240 465,200 447,166 Z" fill="#1ea7c6"/>
<path d="M298,455 C330,440 370,432 402,430 C430,445 448,480 452,520 C458,560 455,600 448,625 C420,650 380,662 345,660 C320,640 300,600 292,560 C288,520 290,480 298,455 Z" fill="#3d1646"/>
<path d="M282,512 C300,520 330,535 360,540 C390,545 420,545 438,548 C445,565 445,580 440,595 C400,600 350,605 320,600 C300,590 288,560 282,512 Z" fill="#c52db0"/>
<path d="M335,645 C370,640 410,625 445,605 C450,620 450,635 446,648 C420,665 390,675 360,678 C348,670 340,658 335,645 Z" fill="#c52db0"/>
<path d="M225,420 C280,415 340,405 395,398 C400,408 400,418 396,426 C340,438 280,446 232,446 Z" fill="#c8f0d2"/>
<path d="M248,442 C275,438 310,434 338,430 C340,447 338,464 332,474 C310,484 280,484 262,478 C252,467 248,454 248,442 Z" fill="#e8d71c"/>
<path d="M310,595 C335,590 362,586 385,584 C388,605 385,625 380,640 C360,648 338,650 322,648 C314,632 310,612 310,595 Z" fill="#e8d71c"/>
<path d="M395,575 L442,560 L448,598 L408,612 Z" fill="#d8a848"/>
<path d="M375,268 C410,246 460,243 502,262 L497,288 C460,272 415,274 385,294 Z" fill="#102528"/>
<ellipse cx="426" cy="322" rx="64" ry="46" fill="#102528"/>
<ellipse cx="430" cy="323" rx="52" ry="34" fill="#e8d71c"/>
<ellipse cx="448" cy="326" rx="20" ry="16" fill="#d2ae2a"/>
<ellipse cx="262" cy="335" rx="33" ry="41" fill="#102528"/>
<ellipse cx="259" cy="335" rx="22" ry="30" fill="#e8d71c"/>
<ellipse cx="312" cy="352" rx="22" ry="34" fill="#0c1a1c"/>
<path d="M540,188 C570,172 612,192 628,235 C636,268 626,295 612,305 C590,312 560,308 540,290 C532,260 532,220 540,188 Z" fill="#aa3cc6"/>
<circle cx="575" cy="228" r="12" fill="#7a2a98"/><circle cx="602" cy="268" r="10" fill="#7a2a98"/>
<path d="M538,300 C565,312 600,312 622,305 C630,360 622,430 612,488 C590,495 560,490 540,478 C545,420 545,360 538,300 Z" fill="#24606e"/>
<path d="M512,585 C530,580 550,582 565,588 C562,630 555,680 545,705 L528,710 C518,670 512,625 512,585 Z" fill="#9a48c2"/>
<path d="M565,590 L592,600 L582,640 L568,640 Z" fill="#2a7f8a"/>
<path d="M585,470 A22,30 0 1 1 575,535" fill="none" stroke="#e6d61c" stroke-width="12"/>
</g>
<g transform="translate(1170,460) scale(0.34953)" fill="#a6d8a6" stroke="#86c98a" stroke-width="3.5" stroke-linejoin="round">
<path d="M138.5,80.7 L176.5,141 L157.4,133.6 L138.5,338.5 L119.6,133.6 L100.7,141 Z"/>
<path d="M648,570 L686,631 L667,623.6 L648,803 L629,623.6 L610,631 Z"/>
</g>
<g transform="translate(13.2,826) scale(0.95)" fill="#131313"><path d="M14 22H7V11H0V4h14v18zM28 22h-8l7.5-18h8L28 22z"/><circle cx="20" cy="8" r="4"/></g>
<text x="54.9" y="846.5" font-size="24" font-weight="bold" fill="#131313" textLength="135.5" lengthAdjust="spacingAndGlyphs">TradingView</text>
</g>
<g id="labels">
<text x="9.6" y="21.8" font-size="14.3" fill="#1c1f2a" font-weight="normal" textLength="402.4" lengthAdjust="spacingAndGlyphs" stroke="#1c1f2a" stroke-width="0.22">MadWhale created with TradingView.com, Sep 17, 2025 21:05 UTC</text>
<text x="19.2" y="52.1" font-size="14.3" fill="#131722" font-weight="normal" textLength="228.4" lengthAdjust="spacingAndGlyphs" stroke="#131722" stroke-width="0.22">Undeads Games/Tether · 1D · Gate.io</text>
<text x="255.9" y="52.1" font-size="14.3" fill="#131722" font-weight="normal" textLength="8.6" lengthAdjust="spacingAndGlyphs" stroke="#131722" stroke-width="0.22">O</text>
<text x="265.7" y="52.1" font-size="14.3" fill="#2e7d32" font-weight="normal" textLength="39.3" lengthAdjust="spacingAndGlyphs" stroke="#2e7d32" stroke-width="0.22">1.7529</text>
<text x="314.1" y="52.1" font-size="14.3" fill="#131722" font-weight="normal" textLength="8.2" lengthAdjust="spacingAndGlyphs" stroke="#131722" stroke-width="0.22">H</text>
<text x="324.2" y="52.1" font-size="14.3" fill="#2e7d32" font-weight="normal" textLength="37.4" lengthAdjust="spacingAndGlyphs" stroke="#2e7d32" stroke-width="0.22">1.8701</text>
<text x="372.1" y="52.1" font-size="14.3" fill="#131722" font-weight="normal" textLength="5.8" lengthAdjust="spacingAndGlyphs" stroke="#131722" stroke-width="0.22">L</text>
<text x="379.6" y="52.1" font-size="14.3" fill="#2e7d32" font-weight="normal" textLength="36.9" lengthAdjust="spacingAndGlyphs" stroke="#2e7d32" stroke-width="0.22">1.7001</text>
<text x="426.5" y="52.1" font-size="14.3" fill="#131722" font-weight="normal" textLength="8.0" lengthAdjust="spacingAndGlyphs" stroke="#131722" stroke-width="0.22">C</text>
<text x="435.9" y="52.1" font-size="14.3" fill="#2e7d32" font-weight="normal" textLength="37.2" lengthAdjust="spacingAndGlyphs" stroke="#2e7d32" stroke-width="0.22">1.8481</text>
<text x="483.8" y="52.1" font-size="14.3" fill="#2e7d32" font-weight="normal" textLength="101.7" lengthAdjust="spacingAndGlyphs" stroke="#2e7d32" stroke-width="0.22">+0.0952 (+5.43%)</text>
<text x="19.6" y="71.3" font-size="14.3" fill="#131722" font-weight="normal" textLength="55.4" lengthAdjust="spacingAndGlyphs" stroke="#131722" stroke-width="0.22">Vol · UDS</text>
<text x="83.4" y="71.3" font-size="14.3" fill="#26a69a" font-weight="normal" textLength="50.0" lengthAdjust="spacingAndGlyphs" stroke="#26a69a" stroke-width="0.22">117.32 K</text>
<rect x="1465" y="34.8" width="60.4" height="28.1" rx="4.5" fill="#fff"/>
<text x="1475.3" y="54" font-size="14.3" fill="#131722" font-weight="normal" textLength="31.7" lengthAdjust="spacingAndGlyphs" stroke="#131722" stroke-width="0.22">USDT</text>
<text x="1470.4" y="95.8" font-size="13.5" fill="#131722" font-weight="normal" textLength="40.6" lengthAdjust="spacingAndGlyphs" stroke="#131722" stroke-width="0.22">2.4000</text>
<text x="1470.4" y="153.8" font-size="13.5" fill="#131722" font-weight="normal" textLength="40.6" lengthAdjust="spacingAndGlyphs" stroke="#131722" stroke-width="0.22">2.2000</text>
<text x="1470.4" y="211.8" font-size="13.5" fill="#131722" font-weight="normal" textLength="40.6" lengthAdjust="spacingAndGlyphs" stroke="#131722" stroke-width="0.22">2.0000</text>
<text x="1470.4" y="269.8" font-size="13.5" fill="#131722" font-weight="normal" textLength="40.6" lengthAdjust="spacingAndGlyphs" stroke="#131722" stroke-width="0.22">1.8000</text>
<text x="1470.4" y="327.8" font-size="13.5" fill="#131722" font-weight="normal" textLength="40.6" lengthAdjust="spacingAndGlyphs" stroke="#131722" stroke-width="0.22">1.6000</text>
<text x="1470.4" y="385.8" font-size="13.5" fill="#131722" font-weight="normal" textLength="40.6" lengthAdjust="spacingAndGlyphs" stroke="#131722" stroke-width="0.22">1.4000</text>
<text x="1470.4" y="443.8" font-size="13.5" fill="#131722" font-weight="normal" textLength="40.6" lengthAdjust="spacingAndGlyphs" stroke="#131722" stroke-width="0.22">1.2000</text>
<text x="1470.4" y="501.8" font-size="13.5" fill="#131722" font-weight="normal" textLength="40.6" lengthAdjust="spacingAndGlyphs" stroke="#131722" stroke-width="0.22">1.0000</text>
<text x="1470.4" y="559.8" font-size="13.5" fill="#131722" font-weight="normal" textLength="40.6" lengthAdjust="spacingAndGlyphs" stroke="#131722" stroke-width="0.22">0.8000</text>
<text x="1470.4" y="617.8" font-size="13.5" fill="#131722" font-weight="normal" textLength="40.6" lengthAdjust="spacingAndGlyphs" stroke="#131722" stroke-width="0.22">0.6000</text>
<text x="1470.4" y="675.8" font-size="13.5" fill="#131722" font-weight="normal" textLength="40.6" lengthAdjust="spacingAndGlyphs" stroke="#131722" stroke-width="0.22">0.4000</text>
<text x="1470.4" y="733.8" font-size="13.5" fill="#131722" font-weight="normal" textLength="40.6" lengthAdjust="spacingAndGlyphs" stroke="#131722" stroke-width="0.22">0.2000</text>
<path d="M1461,242.1 H1514 Q1516.5,242.1 1516.5,244.6 V258.2 Q1516.5,260.7 1514,260.7 H1461 Z" fill="#4caf50"/>
<text x="1471.8" y="256.7" font-size="13.5" fill="#fff" font-weight="bold" textLength="39.0" lengthAdjust="spacingAndGlyphs">1.8481</text>
<text x="68.65" y="793.6" font-size="13.5" fill="#131722" font-weight="normal" textLength="20.5" lengthAdjust="spacingAndGlyphs" stroke="#131722" stroke-width="0.22">Jun</text>
<text x="242.85" y="793.6" font-size="13.5" fill="#131722" font-weight="normal" textLength="17.1" lengthAdjust="spacingAndGlyphs" stroke="#131722" stroke-width="0.22">Jul</text>
<text x="419.1" y="793.6" font-size="13.5" fill="#131722" font-weight="normal" textLength="21.8" lengthAdjust="spacingAndGlyphs" stroke="#131722" stroke-width="0.22">Aug</text>
<text x="597.5" y="793.6" font-size="13.5" fill="#131722" font-weight="normal" textLength="21.6" lengthAdjust="spacingAndGlyphs" stroke="#131722" stroke-width="0.22">Sep</text>
<text x="770.7" y="793.6" font-size="13.5" fill="#131722" font-weight="normal" textLength="20.6" lengthAdjust="spacingAndGlyphs" stroke="#131722" stroke-width="0.22">Oct</text>
<text x="948.55" y="793.6" font-size="13.5" fill="#131722" font-weight="normal" textLength="21.9" lengthAdjust="spacingAndGlyphs" stroke="#131722" stroke-width="0.22">Nov</text>
<text x="1121.6499999999999" y="793.6" font-size="13.5" fill="#131722" font-weight="normal" textLength="21.3" lengthAdjust="spacingAndGlyphs" stroke="#131722" stroke-width="0.22">Dec</text>
<text x="1296.05" y="793.6" font-size="13.5" fill="#131722" font-weight="bold" textLength="30.1" lengthAdjust="spacingAndGlyphs">2026</text>
<text x="298.3" y="161.6" font-size="19.6" fill="#0b0d12" font-weight="normal" textLength="164.7" lengthAdjust="spacingAndGlyphs" stroke="#0b0d12" stroke-width="0.4">ascending channel</text>
<text x="300.9" y="348.3" font-size="19.6" fill="#0b0d12" font-weight="normal" textLength="215.7" lengthAdjust="spacingAndGlyphs" stroke="#0b0d12" stroke-width="0.4">main daily support area</text>
<text x="300.1" y="639.9" font-size="19.6" fill="#0b0d12" font-weight="normal" textLength="87.9" lengthAdjust="spacingAndGlyphs" stroke="#0b0d12" stroke-width="0.4">trend line</text>
<text x="27.2" y="130.1" font-size="14.5" fill="#fff" font-weight="bold" textLength="133.5" lengthAdjust="spacingAndGlyphs">0.3825 (21.11%) 3,825</text>
<text x="42.2" y="349.2" font-size="14.5" fill="#fff" font-weight="bold" textLength="153.0" lengthAdjust="spacingAndGlyphs">−0.1941 (−10.73%) −1,941</text>
<text x="924.5" y="120.1" font-size="46" fill="#000" font-weight="bold" textLength="147.5" lengthAdjust="spacingAndGlyphs">2.2000</text>
<text x="767.7" y="731.9" font-size="46" fill="#000" font-weight="bold" textLength="230.5" lengthAdjust="spacingAndGlyphs">Mad Whale</text>
</g>
</svg></body></html>
